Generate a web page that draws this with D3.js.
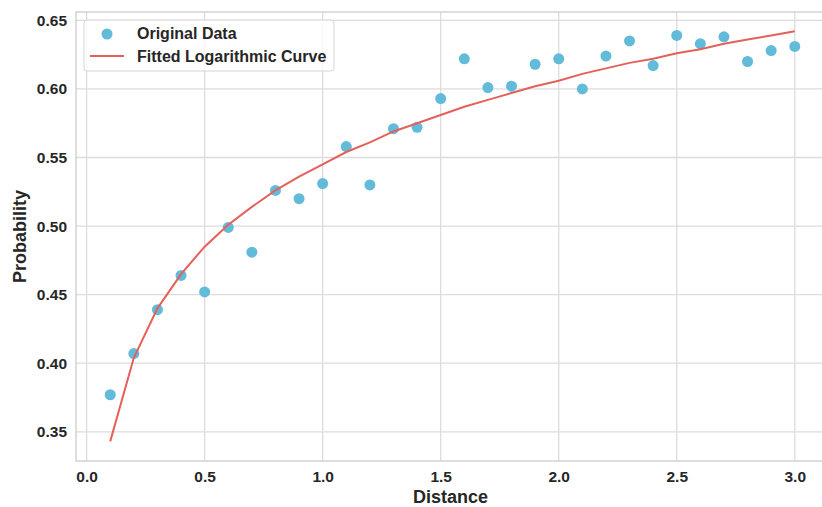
<!DOCTYPE html>
<html>
<head>
<meta charset="utf-8">
<script src="https://cdn.jsdelivr.net/npm/d3@7"></script>
<style>
  body { margin: 0; background: #fff; }
  text { font-family: "Liberation Sans", Arial, sans-serif; font-weight: bold; fill: #262626; }
</style>
</head>
<body>
<div id="vis"></div>
<script>
// values
const distance = [0.1,0.2,0.3,0.4,0.5,0.6,0.7,0.8,0.9,1.0,1.1,1.2,1.3,1.4,1.5,
                  1.6,1.7,1.8,1.9,2.0,2.1,2.2,2.3,2.4,2.5,2.6,2.7,2.8,2.9,3.0];
const probability = [0.377,0.407,0.439,0.464,0.452,0.499,0.481,0.526,0.520,0.531,
                     0.558,0.530,0.571,0.572,0.593,0.622,0.601,0.602,0.618,0.622,
                     0.600,0.624,0.635,0.617,0.639,0.633,0.638,0.620,0.628,0.631];
const fitted = [0.343,0.404,0.440,0.465,0.485,0.501,0.514,0.526,0.536,0.545,
                0.554,0.561,0.569,0.575,0.581,0.587,0.592,0.597,0.602,0.606,
                0.611,0.615,0.619,0.622,0.626,0.629,0.633,0.636,0.639,0.642];
const xTicks = [0.0,0.5,1.0,1.5,2.0,2.5,3.0];
const yTicks = [0.35,0.40,0.45,0.50,0.55,0.60,0.65];

const width = 822, height = 507;
const mLeft = 76, mRight = 829, mTop = 12, mBottom = 461;

const svg = d3.select("#vis").append("svg").attr("width", width).attr("height", height);

const x = d3.scaleLinear().domain([-0.045, 3.145]).range([mLeft, mRight]);
const y = d3.scaleLinear().domain([0.3287, 0.6561]).range([mBottom, mTop]);

// grid
svg.append("g").selectAll("line").data(xTicks).enter().append("line")
  .attr("x1", d => x(d)).attr("x2", d => x(d)).attr("y1", mTop).attr("y2", mBottom)
  .attr("stroke", "#dcdcdc").attr("stroke-width", 1.3);
svg.append("g").selectAll("line").data(yTicks).enter().append("line")
  .attr("x1", mLeft).attr("x2", mRight).attr("y1", d => y(d)).attr("y2", d => y(d))
  .attr("stroke", "#dcdcdc").attr("stroke-width", 1.3);

// spines
svg.append("rect").attr("x", mLeft).attr("y", mTop).attr("width", mRight - mLeft).attr("height", mBottom - mTop)
  .attr("fill", "none").attr("stroke", "#cccccc").attr("stroke-width", 1.3);

// axes
const xAxis = svg.append("g").attr("transform", `translate(0,${mBottom})`)
  .call(d3.axisBottom(x).tickValues(xTicks).tickFormat(d3.format(".1f")).tickSize(0).tickPadding(10));
const yAxis = svg.append("g").attr("transform", `translate(${mLeft},0)`)
  .call(d3.axisLeft(y).tickValues(yTicks).tickFormat(d3.format(".2f")).tickSize(0).tickPadding(9));
[xAxis, yAxis].forEach(a => {
  a.select(".domain").remove();
  a.selectAll("text").attr("font-size", 15.5).attr("fill", "#262626")
    .style("font-family", '"Liberation Sans", Arial, sans-serif').style("font-weight", "bold");
});

// data
const pts = distance.map((d, i) => ({x: d, p: probability[i], f: fitted[i]}));

svg.append("g").selectAll("circle").data(pts).enter().append("circle")
  .attr("cx", d => x(d.x)).attr("cy", d => y(d.p)).attr("r", 5.5)
  .attr("fill", "#62bbd9");

svg.append("path").datum(pts)
  .attr("d", d3.line().x(d => x(d.x)).y(d => y(d.f)))
  .attr("fill", "none").attr("stroke", "#e5605a").attr("stroke-width", 2);

// labels
svg.append("text").attr("x", (mLeft + mRight) / 2 - 2).attr("y", 503)
  .attr("text-anchor", "middle").attr("font-size", 18).text("Distance");
svg.append("text").attr("transform", `translate(26,${(mTop + mBottom) / 2}) rotate(-90)`)
  .attr("text-anchor", "middle").attr("font-size", 18).text("Probability");

// legend
const lg = svg.append("g");
lg.append("rect").attr("x", 84).attr("y", 20).attr("width", 250).attr("height", 51).attr("rx", 3)
  .attr("fill", "#fff").attr("fill-opacity", 0.8).attr("stroke", "#d6d6d6");
lg.append("circle").attr("cx", 107).attr("cy", 34).attr("r", 5.5).attr("fill", "#62bbd9");
lg.append("line").attr("x1", 90).attr("x2", 124).attr("y1", 56).attr("y2", 56)
  .attr("stroke", "#e5605a").attr("stroke-width", 2);
lg.append("text").attr("x", 137).attr("y", 39).attr("font-size", 16).text("Original Data");
lg.append("text").attr("x", 137).attr("y", 61.5).attr("font-size", 16).text("Fitted Logarithmic Curve");
</script>
</body>
</html>
